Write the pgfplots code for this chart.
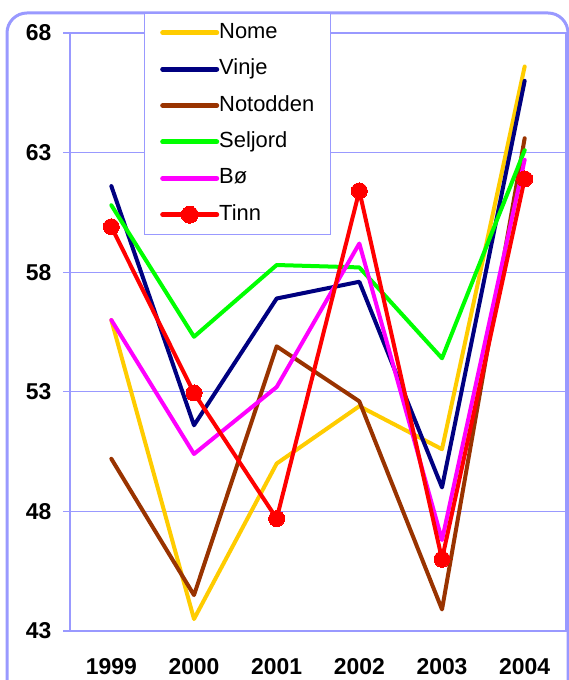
\documentclass[border=0pt]{standalone}
\usepackage{fontspec}
\setmainfont{Liberation Sans}
\usepackage{pgfplots}
\pgfplotsset{compat=1.18}
\definecolor{gridblue}{RGB}{153,153,255}
\definecolor{nome}{RGB}{255,204,0}
\definecolor{vinje}{RGB}{0,0,128}
\definecolor{notodden}{RGB}{153,51,0}
\definecolor{seljord}{RGB}{0,255,0}
\definecolor{bo}{RGB}{255,0,255}
\definecolor{tinn}{RGB}{255,0,0}
\begin{document}
\begin{tikzpicture}[x=1bp,y=1bp]
\useasboundingbox (0,0) rectangle (569,680);
\draw[gridblue, line width=3bp, rounded corners=20bp] (7,-30) rectangle (568,667);
\begin{axis}[
  at={(70bp,49bp)}, anchor=south west,
  scale only axis, width=496bp, height=598bp,
  xmin=-0.5, xmax=5.5, ymin=43, ymax=68,
  xtick={0,1,2,3,4,5},
  xticklabels={\textbf{1999},\textbf{2000},\textbf{2001},\textbf{2002},\textbf{2003},\textbf{2004}},
  minor xtick={-0.5,0.5,1.5,2.5,3.5,4.5,5.5},
  ytick={43,48,53,58,63,68},
  yticklabel={\textbf{\pgfmathprintnumber{\tick}}},
  tick align=outside,
  major tick length=7bp, minor tick length=7bp,
  xtick style={draw=none},
  minor x tick style={gridblue, line width=1.2bp},
  ytick style={gridblue, line width=1.2bp},
  ymajorgrids,
  grid style={gridblue, line width=1.2bp},
  axis line style={gridblue, line width=1.2bp},
  /pgf/number format/assume math mode=true,
  tick label style={font=\fontsize{23}{25}\selectfont\bfseries},
  xticklabel style={yshift=-17bp},
  yticklabel style={xshift=-8bp},
  clip=false,
  every axis plot/.append style={line width=4bp, line cap=round, line join=round},
  legend cell align=left,
  legend image code/.code={%
    \draw[#1, line width=5bp, line cap=round] (0bp,0bp) -- (54bp,0bp);
    \draw[#1, draw=none, line width=0pt, mark size=8.5bp] plot coordinates {(27bp,0bp)};},
  legend style={at={(0.1492,1.0334)}, anchor=north west, draw=gridblue, fill=white,
    font=\fontsize{22}{24}\selectfont, inner xsep=16bp, inner ysep=10bp,
    row sep=17.4bp,
    nodes={inner sep=0pt, text height=15bp, text depth=4bp},
    /tikz/every even column/.append style={column sep=5bp}},
]
\addplot[nome] coordinates {(0,56.0) (1,43.5) (2,50.0) (3,52.4) (4,50.6) (5,66.6)};
\addlegendentry{Nome}
\addplot[vinje] coordinates {(0,61.6) (1,51.6) (2,56.9) (3,57.6) (4,49.0) (5,66.0)};
\addlegendentry{Vinje}
\addplot[notodden] coordinates {(0,50.2) (1,44.5) (2,54.9) (3,52.6) (4,43.9) (5,63.6)};
\addlegendentry{Notodden}
\addplot[seljord] coordinates {(0,60.8) (1,55.3) (2,58.3) (3,58.2) (4,54.4) (5,63.1)};
\addlegendentry{Seljord}
\addplot[bo] coordinates {(0,56.0) (1,50.4) (2,53.2) (3,59.2) (4,46.8) (5,62.7)};
\addlegendentry{Bø}
\addplot[tinn, mark=*, mark size=8bp, mark options={solid, fill=tinn, line width=0pt}] coordinates {(0,59.9) (1,52.95) (2,47.7) (3,61.4) (4,46.0) (5,61.9)};
\addlegendentry{Tinn}
\end{axis}
\end{tikzpicture}
\end{document}
